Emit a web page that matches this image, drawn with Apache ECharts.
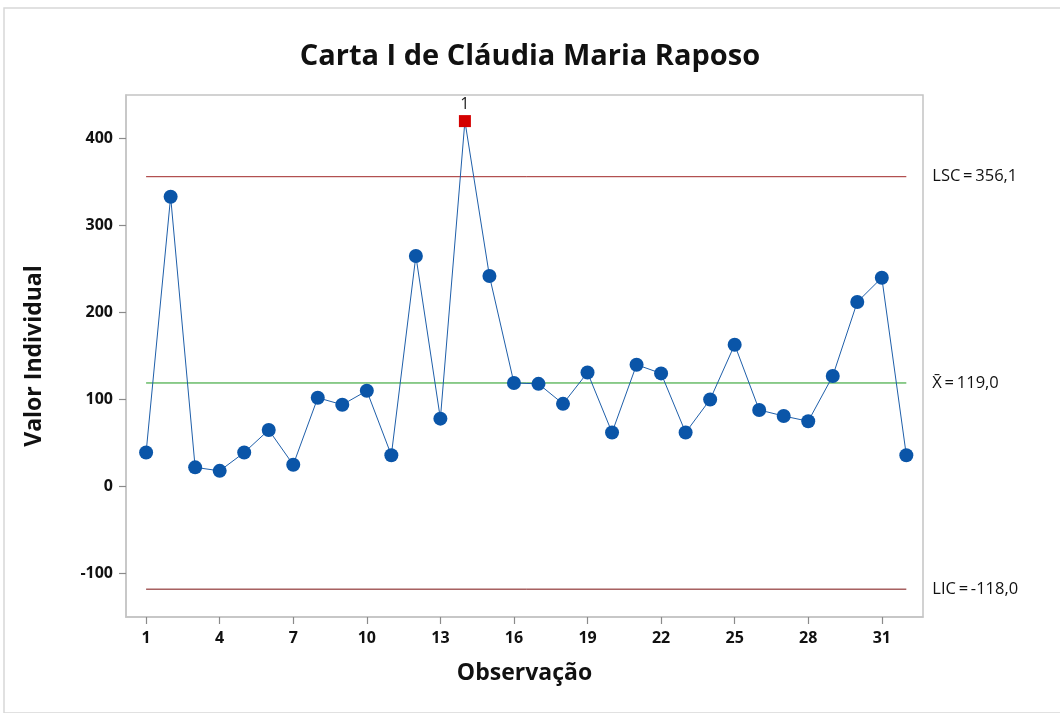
<!DOCTYPE html>
<html><head><meta charset="utf-8">
<script src="https://cdn.jsdelivr.net/npm/echarts@6/dist/echarts.min.js"></script>
<style>html,body{margin:0;padding:0;background:#fff}#c{width:1060px;height:713px}</style>
</head><body><div id="c"></div>
<script>
const observations = [1,2,3,4,5,6,7,8,9,10,11,12,13,14,15,16,17,18,19,20,21,22,23,24,25,26,27,28,29,30,31,32];
const values = [39,333,22,18,39,65,25,102,94,110,36,265,78,420,242,119,118,95,131,62,140,130,62,100,163,88,81,75,127,212,240,36];
const xTicks = [1,4,7,10,13,16,19,22,25,28,31];
const yTicks = [-100,0,100,200,300,400];
const LSC = 356.1, CENTER = 119.0, LIC = -118.0;
const limitLabels = ['LSC\u2009=\u2009356,1','X\u0304\u2009=\u2009119,0','LIC\u2009=\u2009-118,0'];
const FONT = '"Open Sans", "Noto Sans", sans-serif';

const pts = observations.map((o,i) => {
  const out = values[i] > LSC || values[i] < LIC;
  return out ? {value:[o,values[i]], symbol:'rect', symbolSize:12,
      itemStyle:{color:'#D40000'},
      label:{show:true, position:'top', formatter:'1', color:'#222', fontSize:16, fontFamily:FONT, distance:3}}
    : {value:[o,values[i]]};
});
function limitSeries(v, color, lbl){
  return {type:'line', data:[[observations[0],v],[observations[observations.length-1],v]],
    symbol:'none', lineStyle:{color:color,width:1}, silent:true, z:1,
    endLabel:{show:true, formatter:lbl, distance:26, color:'#111', fontSize:16.5, fontFamily:FONT}};
}
const axisLineStyle = {show:true, onZero:false, lineStyle:{color:'#c4c4c4', width:1.5}};
const tickStyle = (vals) => ({show:true, inside:false, length:7, lineStyle:{color:'#8a8a8a', width:1.2}, customValues:vals});
const chart = echarts.init(document.getElementById('c'));
chart.setOption({
  animation:false,
  backgroundColor:'#fff',
  graphic:[{type:'rect', shape:{x:4,y:8,width:1060,height:705}, style:{fill:'none', stroke:'#d8d8d8', lineWidth:1.5}, silent:true}],
  title:{text:'Carta I de Cláudia Maria Raposo', left:'center', top:37,
    textStyle:{fontFamily:FONT, fontSize:29, fontWeight:'bold', color:'#111'}},
  grid:{left:126, top:95, width:797, height:522, show:true, borderColor:'#c4c4c4', borderWidth:1.5},
  xAxis:{type:'value', min:0.18, max:32.68, name:'Observação', nameLocation:'middle', nameGap:45,
    nameTextStyle:{fontFamily:FONT, fontSize:23, fontWeight:'bold', color:'#111'},
    axisLine:axisLineStyle, splitLine:{show:false},
    axisTick:tickStyle(xTicks),
    axisLabel:{customValues:xTicks, fontFamily:FONT, fontSize:16, fontWeight:'bold', color:'#111', margin:13}},
  yAxis:{type:'value', min:-150, max:450, name:'Valor Individual', nameLocation:'middle', nameGap:80, nameRotate:90,
    nameTextStyle:{fontFamily:FONT, fontSize:23, fontWeight:'bold', color:'#111'},
    axisLine:axisLineStyle, splitLine:{show:false},
    axisTick:tickStyle(yTicks),
    axisLabel:{customValues:yTicks, fontFamily:FONT, fontSize:16, fontWeight:'bold', color:'#111', margin:13}},
  series:[
    limitSeries(LSC,'#A02828',limitLabels[0]),
    limitSeries(CENTER,'#1E9A1E',limitLabels[1]),
    limitSeries(LIC,'#7A1010',limitLabels[2]),
    {type:'line', data:pts, symbol:'circle', symbolSize:14, z:3,
     lineStyle:{color:'#1F5FAA', width:1}, itemStyle:{color:'#0A55A8'}}
  ]
});
</script></body></html>
